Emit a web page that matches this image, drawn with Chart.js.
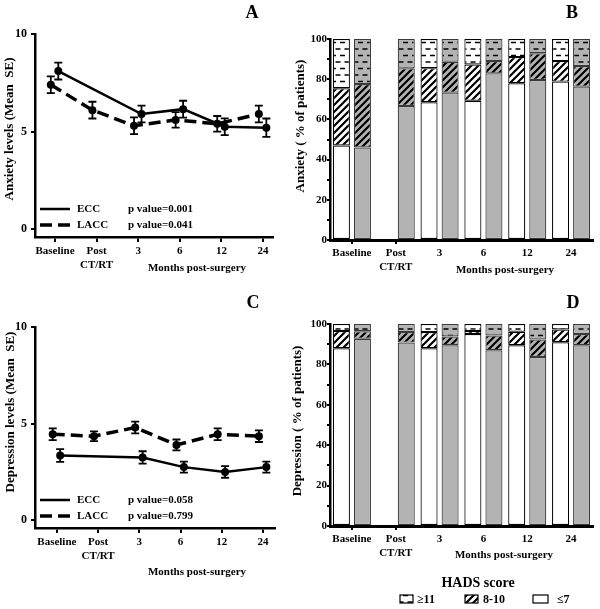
<!DOCTYPE html>
<html>
<head>
<meta charset="utf-8">
<script src="https://cdn.jsdelivr.net/npm/chart.js@4"></script>
<style>
  body { margin: 0; background: #fff; }
  #page { position: relative; width: 600px; height: 609px; overflow: hidden; background: #fff; }
  canvas { position: absolute; }
</style>
</head>
<body>
<div id="page">
  <canvas id="chartA" width="300" height="280" style="left:0;top:0"></canvas>
  <canvas id="chartC" width="300" height="320" style="left:0;top:280px"></canvas>
  <canvas id="chartB" width="315" height="280" style="left:285px;top:0"></canvas>
  <canvas id="chartD" width="315" height="329" style="left:285px;top:280px"></canvas>
</div>
<script>
// time points (shared by all four panels)
var categories = ['Baseline', ['Post', 'CT/RT'], '3', '6', '12', '24'];
var groups = ['ECC', 'LACC'];
var hadsLevels = ['\u22647', '8-10', '\u226511'];

// panel A - anxiety, mean and SE
var anxietyEcc = [8.1, null, 5.9, 6.15, 5.25, 5.2];
var anxietyEccSe = [0.43, null, 0.43, 0.43, 0.43, 0.47];
var anxietyLacc = [7.4, 6.1, 5.3, 5.6, 5.4, 5.9];
var anxietyLaccSe = [0.43, 0.43, 0.43, 0.4, 0.4, 0.43];
var anxietyP = ['0.001', '0.041'];

// panel C - depression, mean and SE
var depressionEcc = [3.35, null, 3.25, 2.75, 2.5, 2.75];
var depressionEccSe = [0.33, null, 0.32, 0.28, 0.3, 0.28];
var depressionLacc = [4.45, 4.35, 4.8, 3.9, 4.45, 4.35];
var depressionLaccSe = [0.3, 0.25, 0.3, 0.28, 0.3, 0.3];
var depressionP = ['0.058', '0.799'];

var meanTicks = [0, 5, 10];

// panel B - anxiety, % of patients per HADS level
var anxietyEccLow = [47, null, 68.5, 69.3, 78, 78.8];
var anxietyEccMid = [28.5, null, 17, 18, 13, 10.2];
var anxietyEccHigh = [24.5, null, 14.5, 12.7, 9, 11];
var anxietyLaccLow = [46, 66.7, 73.3, 82.9, 79.6, 76.3];
var anxietyLaccMid = [31.6, 18.7, 15.4, 6.1, 13.3, 10.3];
var anxietyLaccHigh = [22.4, 14.6, 11.3, 11, 7.1, 13.4];

// panel D - depression, % of patients per HADS level
var depressionEccLow = [88, null, 88, 95, 89.5, 91];
var depressionEccMid = [8.5, null, 8, 1.5, 6.7, 6.3];
var depressionEccHigh = [3.5, null, 4, 3.5, 3.8, 2.7];
var depressionLaccLow = [92.7, 90.8, 89.5, 87, 83.7, 89.5];
var depressionLaccMid = [3.7, 5.2, 4.3, 7.3, 8.6, 5.5];
var depressionLaccHigh = [3.6, 4, 6.2, 5.7, 7.7, 5];

var FONT = '"Liberation Serif", "Times New Roman", serif';
var GRAY = '#b3b3b3';

function dashPattern(bg) {
    var c = document.createElement('canvas');
    c.width = 9; c.height = 13;
    var g = c.getContext('2d');
    g.fillStyle = bg; g.fillRect(0, 0, 9, 13);
    g.strokeStyle = '#000'; g.lineWidth = 1.3;
    g.beginPath();
    g.moveTo(1, 3.5); g.lineTo(6, 3.5);
    g.moveTo(5.5, 10); g.lineTo(10.5, 10);
    g.moveTo(-3.5, 10); g.lineTo(1.5, 10);
    g.stroke();
    return g.createPattern(c, 'repeat');
}

function hatchPattern(bg) {
    var c = document.createElement('canvas');
    c.width = 7; c.height = 7;
    var g = c.getContext('2d');
    g.fillStyle = bg; g.fillRect(0, 0, 7, 7);
    g.strokeStyle = '#000'; g.lineWidth = 2.2;
    g.beginPath();
    g.moveTo(-1, 8); g.lineTo(8, -1);
    g.moveTo(-1, 1); g.lineTo(1, -1);
    g.moveTo(6, 8); g.lineTo(8, 6);
    g.stroke();
    return g.createPattern(c, 'repeat');
}

var fills = {
    ECC: ['#ffffff', hatchPattern('#ffffff'), dashPattern('#ffffff')],
    LACC: [GRAY, hatchPattern(GRAY), dashPattern(GRAY)]
};

function toPoints(values, se, shift) {
    var pts = [];
    values.forEach(function(v, i) {
        if (v !== null) pts.push({ x: i + shift, y: v, se: se[i] });
    });
    return pts;
}

var errorBars = {
    id: 'errorBars',
    afterDatasetsDraw: function(chart) {
        var ctx = chart.ctx;
        var ys = chart.scales.y;
        ctx.save();
        ctx.strokeStyle = '#000';
        ctx.lineWidth = 1.8;
        chart.data.datasets.forEach(function(ds, di) {
            var meta = chart.getDatasetMeta(di);
            meta.data.forEach(function(el, i) {
                var p = ds.data[i];
                var top = ys.getPixelForValue(p.y + p.se);
                var bot = ys.getPixelForValue(p.y - p.se);
                ctx.beginPath();
                ctx.moveTo(el.x, top); ctx.lineTo(el.x, bot);
                ctx.moveTo(el.x - 4, top); ctx.lineTo(el.x + 4, top);
                ctx.moveTo(el.x - 4, bot); ctx.lineTo(el.x + 4, bot);
                ctx.stroke();
            });
        });
        ctx.restore();
    }
};

function makeDecor(d) {
    return {
        id: 'decor',
        afterDraw: function(chart) {
            var ctx = chart.ctx;
            var area = chart.chartArea;
            ctx.save();
            ctx.fillStyle = '#000';
            ctx.textAlign = 'center';
            ctx.textBaseline = 'middle';
            ctx.font = 'bold 18px ' + FONT;
            ctx.fillText(d.letter, d.letterX, d.letterY);
            ctx.font = 'bold 11px ' + FONT;
            ctx.fillText('Months post-surgery', d.xTitleX, d.xTitleY);

            if (d.pValues) {
                // line legend inside the plot
                var rows = [area.bottom - 28, area.bottom - 12];
                ctx.strokeStyle = '#000';
                rows.forEach(function(y, i) {
                    ctx.beginPath();
                    ctx.lineWidth = i === 0 ? 2.5 : 3.5;
                    ctx.setLineDash(i === 0 ? [] : [12, 6]);
                    ctx.moveTo(area.left + 5, y);
                    ctx.lineTo(area.left + 35, y);
                    ctx.stroke();
                    ctx.setLineDash([]);
                    ctx.textAlign = 'left';
                    ctx.fillText(groups[i], area.left + 42, y);
                    ctx.fillText('p value=' + d.pValues[i], area.left + 93, y);
                });
            }

            if (d.hadsLegend) {
                ctx.textAlign = 'center';
                ctx.font = 'bold 14px ' + FONT;
                ctx.fillText('HADS score', 193, 303);
                ctx.font = 'bold 12px ' + FONT;
                ctx.textAlign = 'left';
                var boxes = [{ x: 115, w: 13, t: 132 }, { x: 180, w: 13, t: 198 }, { x: 248, w: 15, t: 272 }];
                [2, 1, 0].forEach(function(lvl, k) {
                    var b = boxes[k];
                    ctx.fillStyle = fills.ECC[lvl];
                    ctx.fillRect(b.x, 315, b.w, 8);
                    ctx.strokeStyle = '#000';
                    ctx.lineWidth = 1.2;
                    ctx.strokeRect(b.x, 315, b.w, 8);
                    ctx.fillStyle = '#000';
                    ctx.fillText(hadsLevels[lvl], b.t, 319.5);
                });
            }

            ctx.font = 'bold 13px ' + FONT;
            ctx.textAlign = 'center';
            ctx.translate(d.yTitleX, d.yTitleY);
            ctx.rotate(-Math.PI / 2);
            ctx.fillText(d.yTitle, 0, 0);
            ctx.restore();
        }
    };
}

function axisBase(tickLength, borderWidth) {
    return {
        grid: { drawOnChartArea: false, drawTicks: true, tickLength: tickLength, color: '#000', lineWidth: 2 },
        border: { display: true, color: '#000', width: borderWidth }
    };
}

function makeLineChart(id, g, ecc, eccSe, lacc, laccSe, pValues, decor) {
    var x = axisBase(5, 2.5);
    x.type = 'linear';
    x.min = g.xMin; x.max = g.xMax;
    x.afterBuildTicks = function(s) {
        s.ticks = categories.map(function(c, i) { return { value: i }; });
    };
    x.ticks = {
        callback: function(v) { return categories[v]; },
        color: '#000', font: { family: FONT, size: 11, weight: 'bold' },
        padding: 3, maxRotation: 0, autoSkip: false
    };
    x.afterFit = function(s) { s.height = g.xHeight; s.paddingLeft = 0; s.paddingRight = 0; };

    var y = axisBase(4, 2.5);
    y.type = 'linear';
    y.min = -0.4; y.max = 10;
    y.afterBuildTicks = function(s) {
        s.ticks = meanTicks.map(function(v) { return { value: v }; });
    };
    y.ticks = { color: '#000', font: { family: FONT, size: 12, weight: 'bold' }, padding: 4 };
    y.afterFit = function(s) { s.width = 35; s.paddingTop = 0; s.paddingBottom = 0; };

    decor.pValues = pValues;

    return new Chart(document.getElementById(id), {
        type: 'line',
        data: {
            datasets: [{
                label: groups[0],
                data: toPoints(ecc, eccSe, 0.08),
                borderColor: '#000', borderWidth: 2.5,
                pointRadius: 4, pointBackgroundColor: '#000', pointBorderWidth: 0,
                tension: 0
            }, {
                label: groups[1],
                data: toPoints(lacc, laccSe, -0.1),
                borderColor: '#000', borderWidth: 3.5, borderDash: [12, 6],
                pointRadius: 4, pointBackgroundColor: '#000', pointBorderWidth: 0,
                tension: 0
            }]
        },
        options: {
            responsive: false,
            animation: false,
            devicePixelRatio: 1,
            layout: { padding: { top: g.top, right: g.right, left: 0, bottom: 0 } },
            plugins: { legend: { display: false }, tooltip: { enabled: false } },
            scales: { x: x, y: y }
        },
        plugins: [errorBars, makeDecor(decor)]
    });
}

function barSet(label, values, stack, fill, border) {
    return {
        label: label, data: values, stack: stack,
        backgroundColor: fill, borderColor: border, borderWidth: 1.2,
        borderSkipped: false, categoryPercentage: 0.96, barPercentage: 0.81
    };
}

function makeBarChart(id, g, ecc, lacc, decor) {
    var datasets = [];
    ecc.forEach(function(vals, lvl) {
        datasets.push(barSet(groups[0] + ' ' + hadsLevels[lvl], vals, groups[0], fills.ECC[lvl], '#000'));
    });
    lacc.forEach(function(vals, lvl) {
        datasets.push(barSet(groups[1] + ' ' + hadsLevels[lvl], vals, groups[1], fills.LACC[lvl], '#3a3a3a'));
    });

    var x = axisBase(4, 3);
    x.stacked = true;
    x.offset = true;
    x.grid.offset = false;
    x.grid.color = function(c) { return c.index < 2 ? '#000' : 'rgba(0,0,0,0)'; };
    x.ticks = { color: '#000', font: { family: FONT, size: 11, weight: 'bold' }, padding: 3, maxRotation: 0, autoSkip: false };
    x.afterFit = function(s) { s.height = g.xHeight; s.paddingLeft = 0; s.paddingRight = 0; };

    var y = axisBase(3, 2.5);
    y.stacked = true;
    y.min = 0; y.max = 100;
    y.ticks = {
        stepSize: 10, autoSkip: false, padding: 0,
        color: '#000', font: { family: FONT, size: 11, weight: 'bold' },
        callback: function(v) { return v % 20 === 0 ? v : ''; }
    };
    y.afterFit = function(s) { s.width = 45; s.paddingTop = 0; s.paddingBottom = 0; };

    return new Chart(document.getElementById(id), {
        type: 'bar',
        data: { labels: categories, datasets: datasets },
        options: {
            responsive: false,
            animation: false,
            devicePixelRatio: 1,
            layout: { padding: { top: g.top, right: 7, left: 0, bottom: 0 } },
            plugins: { legend: { display: false }, tooltip: { enabled: false } },
            scales: { x: x, y: y }
        },
        plugins: [makeDecor(decor)]
    });
}

makeLineChart('chartA', { top: 34, right: 27, xHeight: 43, xMin: -0.48, xMax: 5.24 },
    anxietyEcc, anxietyEccSe, anxietyLacc, anxietyLaccSe, anxietyP,
    { letter: 'A', letterX: 252, letterY: 13, xTitleX: 197, xTitleY: 268,
      yTitle: 'Anxiety levels (Mean  SE)', yTitleX: 10, yTitleY: 129 });

makeLineChart('chartC', { top: 47, right: 25, xHeight: 72, xMin: -0.53, xMax: 5.29 },
    depressionEcc, depressionEccSe, depressionLacc, depressionLaccSe, depressionP,
    { letter: 'C', letterX: 253, letterY: 23, xTitleX: 197, xTitleY: 292,
      yTitle: 'Depression levels (Mean  SE)', yTitleX: 10.5, yTitleY: 132 });

makeBarChart('chartB', { top: 39, xHeight: 40 },
    [anxietyEccLow, anxietyEccMid, anxietyEccHigh],
    [anxietyLaccLow, anxietyLaccMid, anxietyLaccHigh],
    { letter: 'B', letterX: 287, letterY: 13, xTitleX: 220, xTitleY: 270,
      yTitle: 'Anxiety ( % of patients)', yTitleX: 15.5, yTitleY: 126 });

makeBarChart('chartD', { top: 44, xHeight: 83 },
    [depressionEccLow, depressionEccMid, depressionEccHigh],
    [depressionLaccLow, depressionLaccMid, depressionLaccHigh],
    { letter: 'D', letterX: 288, letterY: 23, xTitleX: 219, xTitleY: 275,
      yTitle: 'Depression ( % of patients)', yTitleX: 13, yTitleY: 141, hadsLegend: true });
</script>
</body>
</html>
